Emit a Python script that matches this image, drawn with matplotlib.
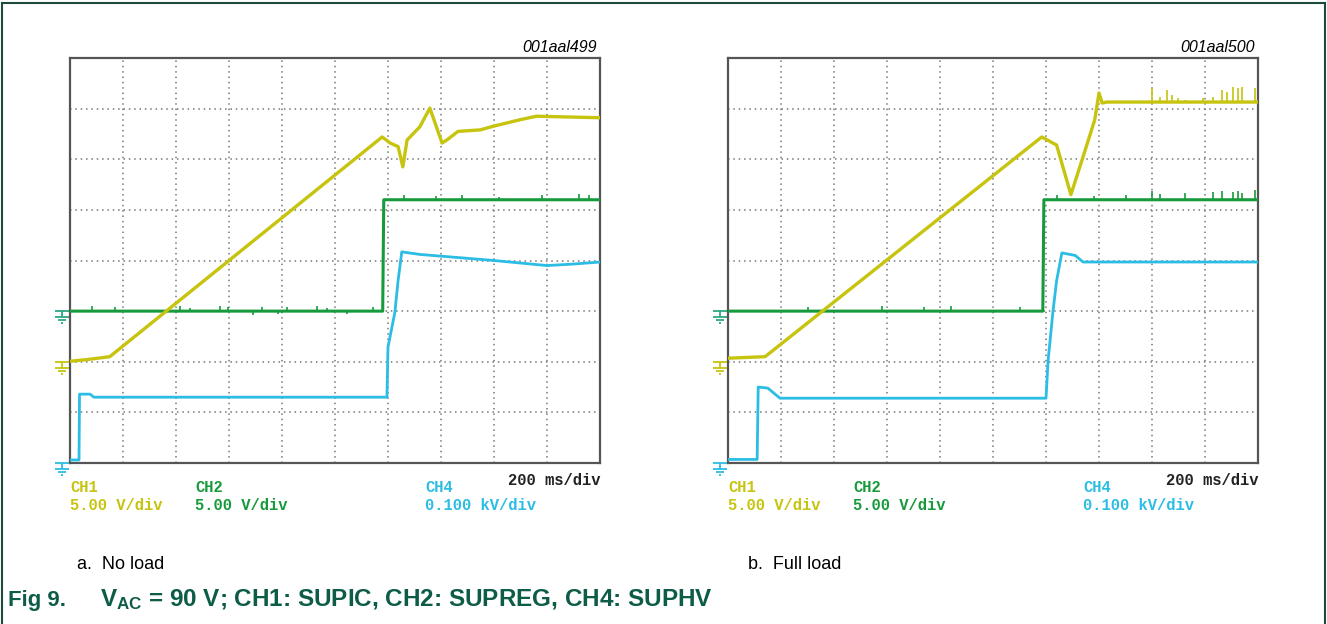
import matplotlib
matplotlib.use("Agg")
import matplotlib.pyplot as plt
from matplotlib.path import Path
from matplotlib.lines import Line2D
import numpy as np

plt.rcParams['font.family'] = ['Liberation Sans', 'DejaVu Sans']
plt.rcParams['mathtext.fontset'] = 'custom'
plt.rcParams['mathtext.bf'] = 'Liberation Sans:bold'
plt.rcParams['mathtext.rm'] = 'Liberation Sans'

W, H = 1327, 624

# ---- data read off the screen captures (x in divisions, y in divisions) ----
# a. No load
ch1_a_t = [0, 0.3, 0.75, 5.89, 6.04, 6.19, 6.28, 6.36, 6.6, 6.79, 7.02, 7.11, 7.32, 7.74, 7.98, 8.49, 8.8, 10]
ch1_a_v = [2.01, 2.04, 2.1, 6.44, 6.32, 6.25, 5.85, 6.38, 6.64, 7.01, 6.32, 6.38, 6.55, 6.58, 6.65, 6.78, 6.85, 6.82]
ch2_a_t = [0, 5.9, 5.92, 10]
ch2_a_v = [3.0, 3.0, 5.2, 5.2]
ch4_a_t = [0, 0.17, 0.18, 0.38, 0.45, 5.98, 6.0, 6.13, 6.19, 6.26, 6.6, 8.0, 9.0, 9.5, 10]
ch4_a_v = [0.06, 0.06, 1.36, 1.36, 1.3, 1.3, 2.29, 2.98, 3.6, 4.17, 4.12, 4.0, 3.9, 3.93, 3.97]
ch2_a_spike_t = [0.42, 0.85, 2.08, 2.26, 2.83, 2.98, 3.45, 3.62, 3.92, 4.1, 4.66, 4.85, 5.23, 5.72,
                 6.3, 6.9, 7.4, 8.1, 8.9, 9.6, 9.8]
ch2_a_spike_v = [3.1, 3.08, 3.1, 3.06, 3.1, 3.08, 2.92, 3.08, 2.94, 3.08, 3.1, 3.06, 2.94, 3.08,
                 5.3, 5.28, 5.3, 5.26, 5.3, 5.32, 5.3]

# b. Full load
ch1_b_t = [0, 0.7, 5.92, 6.2, 6.47, 6.7, 6.92, 7.0, 7.06, 7.15, 10]
ch1_b_v = [2.07, 2.1, 6.44, 6.28, 5.3, 6.05, 6.78, 7.31, 7.11, 7.13, 7.13]
ch2_b_t = [0, 5.94, 5.96, 10]
ch2_b_v = [3.0, 3.0, 5.2, 5.2]
ch4_b_t = [0, 0.55, 0.57, 0.75, 0.98, 6.0, 6.04, 6.13, 6.2, 6.3, 6.55, 6.7, 10]
ch4_b_v = [0.07, 0.07, 1.5, 1.48, 1.28, 1.28, 2.03, 2.98, 3.6, 4.15, 4.1, 3.97, 3.97]
ch1_b_spike_t = [8.0, 8.15, 8.28, 8.38, 8.49, 8.62, 8.96, 9.15, 9.32, 9.42, 9.53, 9.62, 9.7, 9.94]
ch1_b_spike_v = [7.41, 7.23, 7.37, 7.27, 7.21, 7.17, 7.21, 7.23, 7.37, 7.33, 7.43, 7.41, 7.43, 7.41]
ch2_b_spike_t = [1.5, 2.9, 3.7, 4.2, 5.5, 6.2, 6.9, 7.5, 8.0, 8.15, 8.62, 9.15, 9.32, 9.53, 9.62, 9.7, 9.94]
ch2_b_spike_v = [3.08, 3.1, 3.08, 3.1, 3.08, 5.3, 5.28, 5.3, 5.38, 5.32, 5.34, 5.36, 5.38, 5.36, 5.38, 5.34, 5.4]

labels = ["a.  No load", "b.  Full load"]
codes = ["001aal499", "001aal500"]

YEL = '#c6c40e'
GRN = '#169a3c'
CYN = '#2bbde3'
FRAME = '#1e4a3a'
CAP = '#0d5c48'

# ground symbol marker
gnd = Path([(-0.5, 0), (0.5, 0), (0, 0), (0, -0.4),
            (-0.5, -0.4), (0.5, -0.4), (-0.3, -0.6), (0.3, -0.6), (-0.1, -0.8), (0.1, -0.8)],
           [Path.MOVETO, Path.LINETO, Path.MOVETO, Path.LINETO,
            Path.MOVETO, Path.LINETO, Path.MOVETO, Path.LINETO, Path.MOVETO, Path.LINETO])


def px(x, y):
    return x / W, 1 - y / H


fig = plt.figure(figsize=(W / 100, H / 100), dpi=100)

panels = [
    (70, ch1_a_t, ch1_a_v, ch2_a_t, ch2_a_v, ch4_a_t, ch4_a_v,
     ([], []), (ch2_a_spike_t, ch2_a_spike_v)),
    (728, ch1_b_t, ch1_b_v, ch2_b_t, ch2_b_v, ch4_b_t, ch4_b_v,
     (ch1_b_spike_t, ch1_b_spike_v), (ch2_b_spike_t, ch2_b_spike_v)),
]

for i, (x0, t1, v1, t2, v2, t4, v4, sp1, sp2) in enumerate(panels):
    ax = fig.add_axes([x0 / W, 1 - 463 / H, 530 / W, 405 / H])
    ax.set_xlim(0, 10)
    ax.set_ylim(0, 8)
    ax.set_xticks([])
    ax.set_yticks([])
    for s in ax.spines.values():
        s.set_color('#555555')
        s.set_linewidth(1.6)
    for g in range(1, 10):
        ax.axvline(g, color='#777777', lw=1.1, ls=(0, (1, 2.5)), zorder=0)
    for g in range(1, 8):
        ax.axhline(g, color='#777777', lw=1.1, ls=(0, (1, 2.5)), zorder=0)

    ax.plot(t4, v4, color=CYN, lw=2.0, zorder=3)
    ax.plot(t2, v2, color=GRN, lw=2.2, zorder=4)
    ax.plot(t1, v1, color=YEL, lw=2.4, zorder=5)
    # noise spikes
    base1 = v1[-1]
    if sp1[0]:
        ax.vlines(sp1[0], base1, sp1[1], color=YEL, lw=1.2, zorder=5)
    base2 = [3.0 if t < t2[1] else 5.2 for t in sp2[0]]
    ax.vlines(sp2[0], base2, sp2[1], color=GRN, lw=1.2, zorder=4)

    # ground markers
    for lvl, c in [(3.0, '#2aa883'), (2.0, YEL), (0.0, CYN)]:
        ax.plot([-0.15], [lvl], marker=gnd, ms=17, mew=1.3, color=c, clip_on=False, zorder=6)

    # screen annotations
    fig.text(*px(x0 + 527, 52), codes[i], fontsize=11.5, style='italic', ha='right', va='baseline')
    mono = dict(family='Liberation Mono', fontweight='bold', fontsize=11.2, va='baseline')
    fig.text(*px(x0, 492), "CH1", color=YEL, **mono)
    fig.text(*px(x0, 510), "5.00 V/div", color=YEL, **mono)
    fig.text(*px(x0 + 125, 492), "CH2", color=GRN, **mono)
    fig.text(*px(x0 + 125, 510), "5.00 V/div", color=GRN, **mono)
    fig.text(*px(x0 + 355, 492), "CH4", color=CYN, **mono)
    fig.text(*px(x0 + 355, 510), "0.100 kV/div", color=CYN, **mono)
    fig.text(*px(x0 + 530, 485), "200 ms/div", color='#222222', ha='right', **mono)

fig.text(*px(77, 569), labels[0], fontsize=13, va='baseline')
fig.text(*px(748, 569), labels[1], fontsize=13, va='baseline')

fig.text(*px(8, 606), "Fig 9.", fontsize=16, fontweight='bold', color=CAP, va='baseline')
fig.text(*px(100, 606), r"$\mathbf{V_{AC}}$ = 90 V; CH1: SUPIC, CH2: SUPREG, CH4: SUPHV",
         fontsize=17.5, fontweight='bold', color=CAP, va='baseline')

# outer frame
for xs, ys in [([2, 1325], [3, 3]), ([2, 2], [3, 624]), ([1325, 1325], [3, 624])]:
    fig.add_artist(Line2D([x / W for x in xs], [1 - y / H for y in ys], color=FRAME, lw=1.5,
                          transform=fig.transFigure))

fig.savefig("out.png", dpi=100)
